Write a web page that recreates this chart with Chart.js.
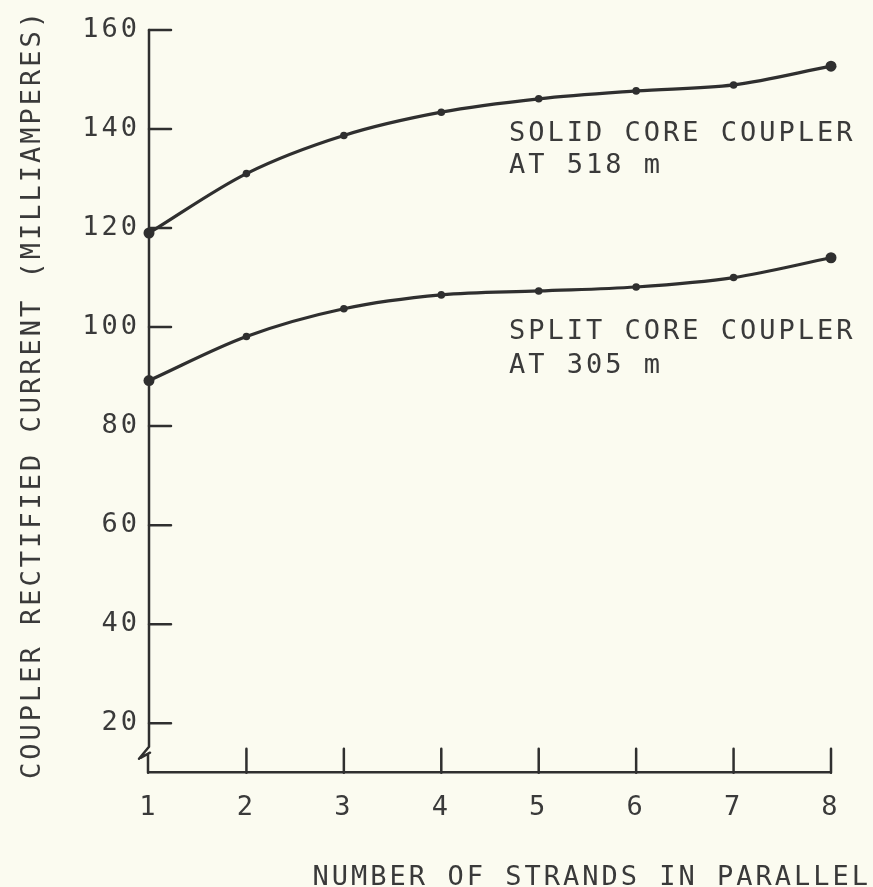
<!DOCTYPE html>
<html>
<head>
<meta charset="utf-8">
<style>
  html, body { margin: 0; padding: 0; background: #fbfbf0; }
  #wrap { width: 873px; height: 887px; position: relative; }
  canvas { display: block; }
</style>
<script src="https://cdn.jsdelivr.net/npm/chart.js@4/dist/chart.umd.min.js"></script>
</head>
<body>
<div id="wrap"><canvas id="c" width="873" height="887"></canvas></div>
<script>
// Number of strands in parallel (x categories)
const strands = ['1', '2', '3', '4', '5', '6', '7', '8'];
// Rectified current, milliamperes
const solidCore = [119, 131, 138.7, 143.4, 146.1, 147.7, 148.9, 152.7];
const splitCore = [89.2, 98.1, 103.7, 106.5, 107.3, 108.1, 110, 114];
// Labelled y ticks
const yTicks = [20, 40, 60, 80, 100, 120, 140, 160];

const yTitle = 'COUPLER RECTIFIED CURRENT (MILLIAMPERES)';
const xTitle = 'NUMBER OF STRANDS IN PARALLEL';
const solidLabel = ['SOLID CORE COUPLER', 'AT 518 m'];
const splitLabel = ['SPLIT CORE COUPLER', 'AT 305 m'];

const INK = '#2f2f2f';
const TEXT = '#3a3a3a';
const PAPER = '#fbfbf0';
const FONT = "'DejaVu Sans Mono', 'Liberation Mono', monospace";
const SPACING = '3px';

Chart.defaults.font.family = FONT;
Chart.defaults.font.size = 27;
Chart.defaults.color = TEXT;

const paperAndLettering = {
  id: 'paperAndLettering',
  beforeLayout(chart) { chart.ctx.letterSpacing = SPACING; },
  beforeDraw(chart) {
    const ctx = chart.ctx;
    ctx.save();
    ctx.fillStyle = PAPER;
    ctx.fillRect(0, 0, chart.width, chart.height);
    ctx.restore();
    ctx.letterSpacing = SPACING;
  },
  afterDraw(chart) {
    const ctx = chart.ctx;
    const xs = chart.scales.x, ys = chart.scales.y;
    const area = chart.chartArea;
    const ax = area.left;
    ctx.save();
    ctx.strokeStyle = INK;
    ctx.lineWidth = 2.5;
    ctx.lineCap = 'round';
    ctx.lineJoin = 'round';

    // y axis with a break mark near its foot
    const yTop = ys.getPixelForValue(yTicks[yTicks.length - 1]);
    const yBot = area.bottom;
    ctx.beginPath();
    ctx.moveTo(ax, yTop);
    ctx.lineTo(ax, yBot - 26);
    ctx.lineTo(ax - 10, yBot - 14);
    ctx.moveTo(ax - 8, yBot - 15);
    ctx.lineTo(ax + 1, yBot - 20);
    ctx.moveTo(ax - 1, yBot - 19);
    ctx.lineTo(ax - 1, yBot);
    ctx.stroke();

    // inward y ticks
    ctx.beginPath();
    yTicks.forEach(v => {
      const py = ys.getPixelForValue(v);
      ctx.moveTo(ax, py);
      ctx.lineTo(ax + 22, py);
    });
    // inward x ticks
    strands.forEach((s, i) => {
      if (i === 0) return;
      const px = xs.getPixelForValue(i);
      ctx.moveTo(px, yBot);
      ctx.lineTo(px, yBot - 24);
    });
    ctx.stroke();

    // lettering
    ctx.fillStyle = TEXT;
    ctx.font = '27px ' + FONT;
    ctx.letterSpacing = SPACING;
    ctx.textBaseline = 'alphabetic';
    ctx.textAlign = 'left';
    ctx.fillText(solidLabel[0], 509, 141);
    ctx.fillText(solidLabel[1], 509, 173);
    ctx.fillText(splitLabel[0], 509, 339);
    ctx.fillText(splitLabel[1], 509, 373);

    ctx.textAlign = 'right';
    ctx.fillText(xTitle, 871, 885);

    ctx.translate(40, 394);
    ctx.rotate(-Math.PI / 2);
    ctx.textAlign = 'center';
    ctx.fillText(yTitle, 0, 0);
    ctx.restore();
  }
};

const pointSize = c => (c.dataIndex === 0 || c.dataIndex === strands.length - 1) ? 5.5 : 3.8;

new Chart(document.getElementById('c'), {
  type: 'line',
  data: {
    labels: strands,
    datasets: [
      { label: 'Solid core coupler at 518 m', data: solidCore },
      { label: 'Split core coupler at 305 m', data: splitCore }
    ].map(d => Object.assign(d, {
      borderColor: INK,
      backgroundColor: INK,
      borderWidth: 3.2,
      pointRadius: pointSize,
      pointBorderWidth: 0,
      pointBackgroundColor: INK,
      cubicInterpolationMode: 'monotone',
      fill: false,
      clip: false
    }))
  },
  options: {
    responsive: false,
    animation: false,
    devicePixelRatio: 1,
    events: [],
    layout: { padding: { top: 30, right: 42, left: 0, bottom: 0 } },
    plugins: { legend: { display: false }, tooltip: { enabled: false } },
    scales: {
      x: {
        type: 'category',
        offset: false,
        grid: { display: false, drawTicks: false },
        border: { display: true, color: INK, width: 2.5 },
        ticks: { padding: 19, maxRotation: 0, autoSkip: false, color: TEXT },
        afterFit(s) { s.height = 114.3; }
      },
      y: {
        type: 'linear',
        min: 10,
        max: 160,
        grid: { display: false, drawTicks: false },
        border: { display: false },
        ticks: { padding: 9, color: TEXT },
        afterBuildTicks(s) { s.ticks = yTicks.map(v => ({ value: v })); },
        afterFit(s) { s.width = 149; }
      }
    }
  },
  plugins: [paperAndLettering]
});
</script>
</body>
</html>
